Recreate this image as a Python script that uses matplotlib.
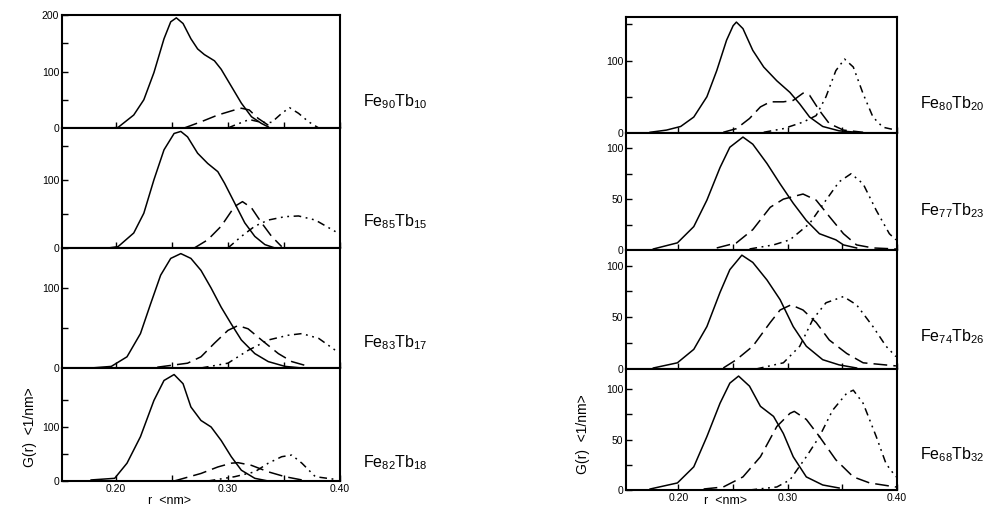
import matplotlib
matplotlib.use('Agg')
import matplotlib.pyplot as plt

plt.rcParams['font.family'] = ['Liberation Sans', 'DejaVu Sans']
plt.rcParams['mathtext.fontset'] = 'custom'
plt.rcParams['mathtext.rm'] = 'Liberation Sans'
plt.rcParams['mathtext.it'] = 'Liberation Sans:italic'

# sample labels
left_labels = [r'Fe$_{90}$Tb$_{10}$', r'Fe$_{85}$Tb$_{15}$', r'Fe$_{83}$Tb$_{17}$', r'Fe$_{82}$Tb$_{18}$']
right_labels = [r'Fe$_{80}$Tb$_{20}$', r'Fe$_{77}$Tb$_{23}$', r'Fe$_{74}$Tb$_{26}$', r'Fe$_{68}$Tb$_{32}$']

# Fe90Tb10
fe90_solid_r = [0.195, 0.202, 0.216, 0.225, 0.234, 0.243, 0.249, 0.254, 0.260, 0.267, 0.273, 0.279, 0.288, 0.294, 0.303, 0.312, 0.321, 0.330, 0.336]
fe90_solid_g = [0, 1, 23, 50, 98, 158, 188, 195, 185, 158, 140, 130, 119, 104, 74, 44, 20, 8, 2]
fe90_dash_r = [0.261, 0.276, 0.291, 0.306, 0.312, 0.319, 0.327, 0.336, 0.342]
fe90_dash_g = [0, 11, 23, 32, 35, 32, 17, 5, 0]
fe90_dd_r = [0.300, 0.306, 0.319, 0.330, 0.339, 0.348, 0.355, 0.363, 0.372, 0.381]
fe90_dd_g = [0, 5, 15, 10, 10, 26, 36, 26, 11, 0]

# Fe85Tb15
fe85_solid_r = [0.193, 0.202, 0.216, 0.225, 0.234, 0.243, 0.252, 0.258, 0.264, 0.273, 0.282, 0.291, 0.297, 0.306, 0.315, 0.324, 0.333, 0.342]
fe85_solid_g = [0, 2, 22, 51, 100, 144, 168, 171, 163, 139, 124, 112, 95, 66, 37, 17, 5, 0]
fe85_dash_r = [0.270, 0.282, 0.294, 0.306, 0.313, 0.321, 0.330, 0.339, 0.348]
fe85_dash_g = [0, 12, 32, 61, 68, 59, 37, 17, 2]
fe85_dd_r = [0.300, 0.312, 0.324, 0.336, 0.351, 0.363, 0.378, 0.396]
fe85_dd_g = [0, 17, 32, 41, 46, 47, 41, 24]

# Fe83Tb17
fe83_solid_r = [0.178, 0.196, 0.210, 0.222, 0.231, 0.240, 0.249, 0.258, 0.267, 0.276, 0.285, 0.294, 0.303, 0.312, 0.324, 0.336, 0.351, 0.366]
fe83_solid_g = [0, 2, 14, 43, 80, 116, 137, 143, 137, 122, 100, 76, 55, 35, 18, 8, 2, 0]
fe83_dash_r = [0.237, 0.264, 0.276, 0.288, 0.300, 0.309, 0.318, 0.330, 0.345, 0.357, 0.372]
fe83_dash_g = [1, 6, 14, 31, 47, 53, 49, 35, 18, 8, 2]
fe83_dd_r = [0.276, 0.300, 0.318, 0.336, 0.354, 0.366, 0.381, 0.396]
fe83_dd_g = [0, 6, 22, 35, 41, 43, 37, 22]

# Fe82Tb18
fe82_solid_r = [0.178, 0.199, 0.210, 0.222, 0.234, 0.243, 0.252, 0.260, 0.267, 0.276, 0.285, 0.294, 0.303, 0.312, 0.324, 0.336]
fe82_solid_g = [2, 5, 33, 82, 149, 186, 197, 180, 137, 112, 100, 75, 45, 20, 5, 0]
fe82_dash_r = [0.252, 0.276, 0.291, 0.303, 0.309, 0.321, 0.336, 0.351, 0.366]
fe82_dash_g = [0, 14, 26, 33, 34, 29, 17, 8, 2]
fe82_dd_r = [0.282, 0.306, 0.324, 0.336, 0.348, 0.357, 0.366, 0.378, 0.396]
fe82_dd_g = [0, 8, 17, 33, 45, 48, 33, 8, 3]

# Fe80Tb20
fe80_solid_r = [0.174, 0.189, 0.202, 0.214, 0.226, 0.235, 0.244, 0.250, 0.253, 0.259, 0.268, 0.278, 0.290, 0.302, 0.311, 0.320, 0.332, 0.347, 0.363]
fe80_solid_g = [1, 4, 9, 22, 50, 86, 128, 148, 153, 144, 114, 91, 72, 56, 40, 22, 9, 3, 1]
fe80_dash_r = [0.241, 0.253, 0.265, 0.275, 0.284, 0.296, 0.305, 0.314, 0.320, 0.329, 0.338, 0.351, 0.369]
fe80_dash_g = [1, 6, 20, 36, 43, 43, 45, 55, 52, 31, 13, 4, 1]
fe80_dd_r = [0.278, 0.296, 0.314, 0.326, 0.335, 0.344, 0.352, 0.360, 0.369, 0.378, 0.387, 0.399]
fe80_dd_g = [1, 6, 15, 24, 50, 86, 102, 91, 54, 22, 8, 4]

# Fe77Tb23
fe77_solid_r = [0.177, 0.199, 0.214, 0.226, 0.238, 0.247, 0.259, 0.268, 0.281, 0.293, 0.305, 0.317, 0.329, 0.344, 0.351, 0.363]
fe77_solid_g = [1, 7, 23, 49, 81, 101, 111, 104, 85, 65, 46, 29, 16, 10, 5, 2]
fe77_dash_r = [0.235, 0.253, 0.268, 0.284, 0.296, 0.314, 0.326, 0.338, 0.351, 0.363, 0.378, 0.399]
fe77_dash_g = [2, 7, 20, 42, 50, 55, 49, 33, 16, 5, 2, 1]
fe77_dd_r = [0.265, 0.287, 0.302, 0.320, 0.335, 0.347, 0.358, 0.369, 0.381, 0.393, 0.399]
fe77_dd_g = [1, 5, 10, 26, 49, 67, 75, 65, 39, 16, 10]

# Fe74Tb26
fe74_solid_r = [0.177, 0.199, 0.214, 0.226, 0.238, 0.247, 0.258, 0.268, 0.281, 0.293, 0.305, 0.317, 0.332, 0.347, 0.363]
fe74_solid_g = [1, 6, 19, 41, 74, 96, 110, 103, 86, 67, 41, 22, 9, 4, 1]
fe74_dash_r = [0.241, 0.253, 0.268, 0.284, 0.293, 0.303, 0.314, 0.326, 0.338, 0.354, 0.369, 0.399]
fe74_dash_g = [1, 9, 22, 45, 57, 62, 57, 45, 28, 15, 6, 3]
fe74_dd_r = [0.271, 0.296, 0.311, 0.323, 0.335, 0.351, 0.363, 0.378, 0.390, 0.399]
fe74_dd_g = [0, 6, 22, 48, 64, 70, 62, 41, 22, 12]

# Fe68Tb32
fe68_solid_r = [0.174, 0.199, 0.214, 0.226, 0.238, 0.247, 0.255, 0.265, 0.275, 0.287, 0.296, 0.305, 0.317, 0.332, 0.347]
fe68_solid_g = [1, 7, 23, 53, 86, 106, 113, 103, 83, 73, 56, 33, 13, 5, 2]
fe68_dash_r = [0.223, 0.241, 0.259, 0.275, 0.290, 0.302, 0.306, 0.317, 0.329, 0.344, 0.360, 0.375, 0.399]
fe68_dash_g = [1, 3, 13, 33, 63, 76, 78, 70, 53, 30, 13, 7, 3]
fe68_dd_r = [0.265, 0.290, 0.302, 0.317, 0.329, 0.341, 0.354, 0.360, 0.369, 0.381, 0.390, 0.399]
fe68_dd_g = [0, 3, 10, 33, 53, 79, 96, 99, 86, 53, 26, 13]

left_curves = [
    (fe90_solid_r, fe90_solid_g, fe90_dash_r, fe90_dash_g, fe90_dd_r, fe90_dd_g),
    (fe85_solid_r, fe85_solid_g, fe85_dash_r, fe85_dash_g, fe85_dd_r, fe85_dd_g),
    (fe83_solid_r, fe83_solid_g, fe83_dash_r, fe83_dash_g, fe83_dd_r, fe83_dd_g),
    (fe82_solid_r, fe82_solid_g, fe82_dash_r, fe82_dash_g, fe82_dd_r, fe82_dd_g),
]
right_curves = [
    (fe80_solid_r, fe80_solid_g, fe80_dash_r, fe80_dash_g, fe80_dd_r, fe80_dd_g),
    (fe77_solid_r, fe77_solid_g, fe77_dash_r, fe77_dash_g, fe77_dd_r, fe77_dd_g),
    (fe74_solid_r, fe74_solid_g, fe74_dash_r, fe74_dash_g, fe74_dd_r, fe74_dd_g),
    (fe68_solid_r, fe68_solid_g, fe68_dash_r, fe68_dash_g, fe68_dd_r, fe68_dd_g),
]

# axes boxes in figure fractions [left, bottom, width, height]
left_boxes = [[0.0621, 0.748, 0.2786, 0.2224], [0.0621, 0.5118, 0.2786, 0.2362],
              [0.0621, 0.2756, 0.2786, 0.2362], [0.0621, 0.0531, 0.2786, 0.2224]]
right_boxes = [[0.6273, 0.7382, 0.2715, 0.2283], [0.6273, 0.5079, 0.2715, 0.2303],
               [0.6273, 0.2736, 0.2715, 0.2343], [0.6273, 0.0354, 0.2715, 0.2382]]
left_ymax = [200, 176, 148, 209]
right_ymax = [160, 115, 115, 120]
left_label_y = [0.800, 0.563, 0.326, 0.089]
right_label_y = [0.795, 0.585, 0.337, 0.105]

fig = plt.figure(figsize=(9.98, 5.08), dpi=100)


def draw_panel(box, curves, ymax, yticks, ylabels, bottom):
    ax = fig.add_axes(box)
    sr, sg, dr, dg, ddr, ddg = curves
    ax.plot(sr, sg, color='black', lw=1.1)
    ax.plot(dr, dg, color='black', lw=1.1, dashes=(9, 4))
    ax.plot(ddr, ddg, color='black', lw=1.1, dashes=(5, 3, 1.2, 3, 1.2, 3))
    ax.set_xlim(0.152, 0.40)
    ax.set_ylim(0, ymax)
    ax.set_yticks(yticks, ylabels)
    ax.set_xticks([0.20, 0.25, 0.30, 0.35, 0.40])
    if bottom:
        ax.set_xticklabels(['0.20', '', '0.30', '', '0.40'])
    else:
        ax.set_xticklabels([])
    ax.tick_params(direction='in', length=4, width=1, labelsize=7.5, pad=2)
    for s in ax.spines.values():
        s.set_linewidth(1.5)
    return ax


for i in range(4):
    if i == 0:
        yt, yl = [0, 50, 100, 150, 200], ['0', '', '100', '', '200']
    else:
        yt, yl = [0, 50, 100, 150], ['0', '', '100', '']
    draw_panel(left_boxes[i], left_curves[i], left_ymax[i], yt, yl, i == 3)
    fig.text(0.364, left_label_y[i], left_labels[i], fontsize=11.5, va='center')

for i in range(4):
    if i == 0:
        yt, yl = [0, 50, 100, 150], ['0', '', '100', '']
    else:
        yt, yl = [0, 25, 50, 75, 100], ['0', '', '50', '', '100']
    draw_panel(right_boxes[i], right_curves[i], right_ymax[i], yt, yl, i == 3)
    fig.text(0.922, right_label_y[i], right_labels[i], fontsize=11.5, va='center')

fig.text(0.030, 0.16, 'G(r)  <1/nm>', rotation=90, fontsize=10, ha='center', va='center')
fig.text(0.584, 0.145, 'G(r)  <1/nm>', rotation=90, fontsize=10, ha='center', va='center')
fig.text(0.170, 0.001, 'r  <nm>', fontsize=9, ha='center', va='bottom')
fig.text(0.727, 0.001, 'r  <nm>', fontsize=9, ha='center', va='bottom')

fig.savefig('out.png', dpi=100)
